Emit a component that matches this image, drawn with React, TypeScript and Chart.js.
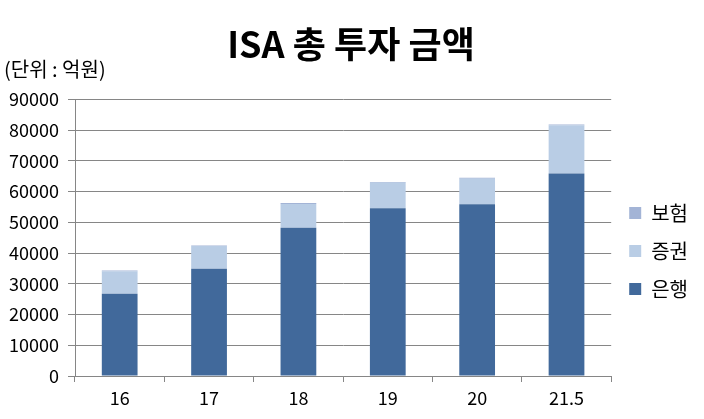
import { useEffect, useRef } from "react";
import { Chart, registerables } from "chart.js";

Chart.register(...registerables);

// 기간 (년)
const years = ["16", "17", "18", "19", "20", "21.5"];
// 단위: 억원
const bank = [26800, 34900, 48200, 54600, 55900, 65900];
const securities = [7300, 7400, 7800, 8300, 8300, 15700];
const insurance = [200, 200, 300, 200, 300, 200];
const yTicks = [0, 10000, 20000, 30000, 40000, 50000, 60000, 70000, 80000, 90000];

const FONT = "'Noto Sans CJK KR', 'Noto Sans', sans-serif";

export default function App() {
  const chartRef = useRef<HTMLCanvasElement | null>(null);
  const chartInstance = useRef<Chart | null>(null);

  useEffect(() => {
    document.body.style.margin = "0";
    if (!chartRef.current) return;
    if (chartInstance.current) chartInstance.current.destroy();

    const ctx = chartRef.current.getContext("2d");
    if (!ctx) return;

    chartInstance.current = new Chart(ctx, {
      type: "bar",
      data: {
        labels: years,
        datasets: [
          { label: "은행", data: bank, backgroundColor: "#41699b" },
          { label: "증권", data: securities, backgroundColor: "#b9cde5" },
          { label: "보험", data: insurance, backgroundColor: "#a3b4d6" },
        ],
      },
      options: {
        responsive: true,
        maintainAspectRatio: false,
        animation: false,
        layout: { padding: { left: 4, right: 6, top: 28, bottom: 0 } },
        datasets: {
          bar: { barPercentage: 0.8, categoryPercentage: 0.5 },
        },
        plugins: {
          title: {
            display: true,
            text: "ISA 총 투자 금액",
            color: "#000",
            font: { family: FONT, size: 36, weight: "bold", lineHeight: 0.9 },
            padding: { top: 0, bottom: 0 },
          },
          subtitle: {
            display: true,
            text: "(단위 : 억원)",
            align: "start",
            color: "#000",
            font: { family: FONT, size: 20, lineHeight: 0.95 },
            padding: { top: 0, bottom: 20 },
          },
          legend: {
            position: "right",
            reverse: true,
            title: {
              display: true,
              text: " ",
              font: { size: 10 },
              padding: { top: 0, bottom: 43 },
            },
            labels: {
              color: "#000",
              boxWidth: 12,
              boxHeight: 12,
              padding: 18,
              font: { family: FONT, size: 20 },
            },
          },
          tooltip: { enabled: false },
        },
        scales: {
          x: {
            stacked: true,
            grid: {
              drawOnChartArea: false,
              drawTicks: true,
              tickLength: 6,
              color: "#868686",
            },
            border: { color: "#868686" },
            ticks: {
              color: "#000",
              font: { family: FONT, size: 18 },
              padding: 5,
            },
            afterFit: (scale) => {
              scale.height = 43;
            },
          },
          y: {
            stacked: true,
            min: 0,
            max: 90000,
            afterBuildTicks: (scale) => {
              scale.ticks = yTicks.map((v) => ({ value: v }));
            },
            grid: { color: "#868686", tickLength: 7 },
            border: { color: "#868686" },
            ticks: {
              color: "#000",
              font: { family: FONT, size: 18 },
              padding: 9,
              callback: (v) => String(v),
            },
            afterFit: (scale) => {
              scale.width = 71;
            },
          },
        },
      },
    });

    return () => {
      if (chartInstance.current) {
        chartInstance.current.destroy();
        chartInstance.current = null;
      }
    };
  }, []);

  return (
    <div style={{ width: 704, height: 419, position: "relative", background: "#fff" }}>
      <canvas ref={chartRef} />
    </div>
  );
}
